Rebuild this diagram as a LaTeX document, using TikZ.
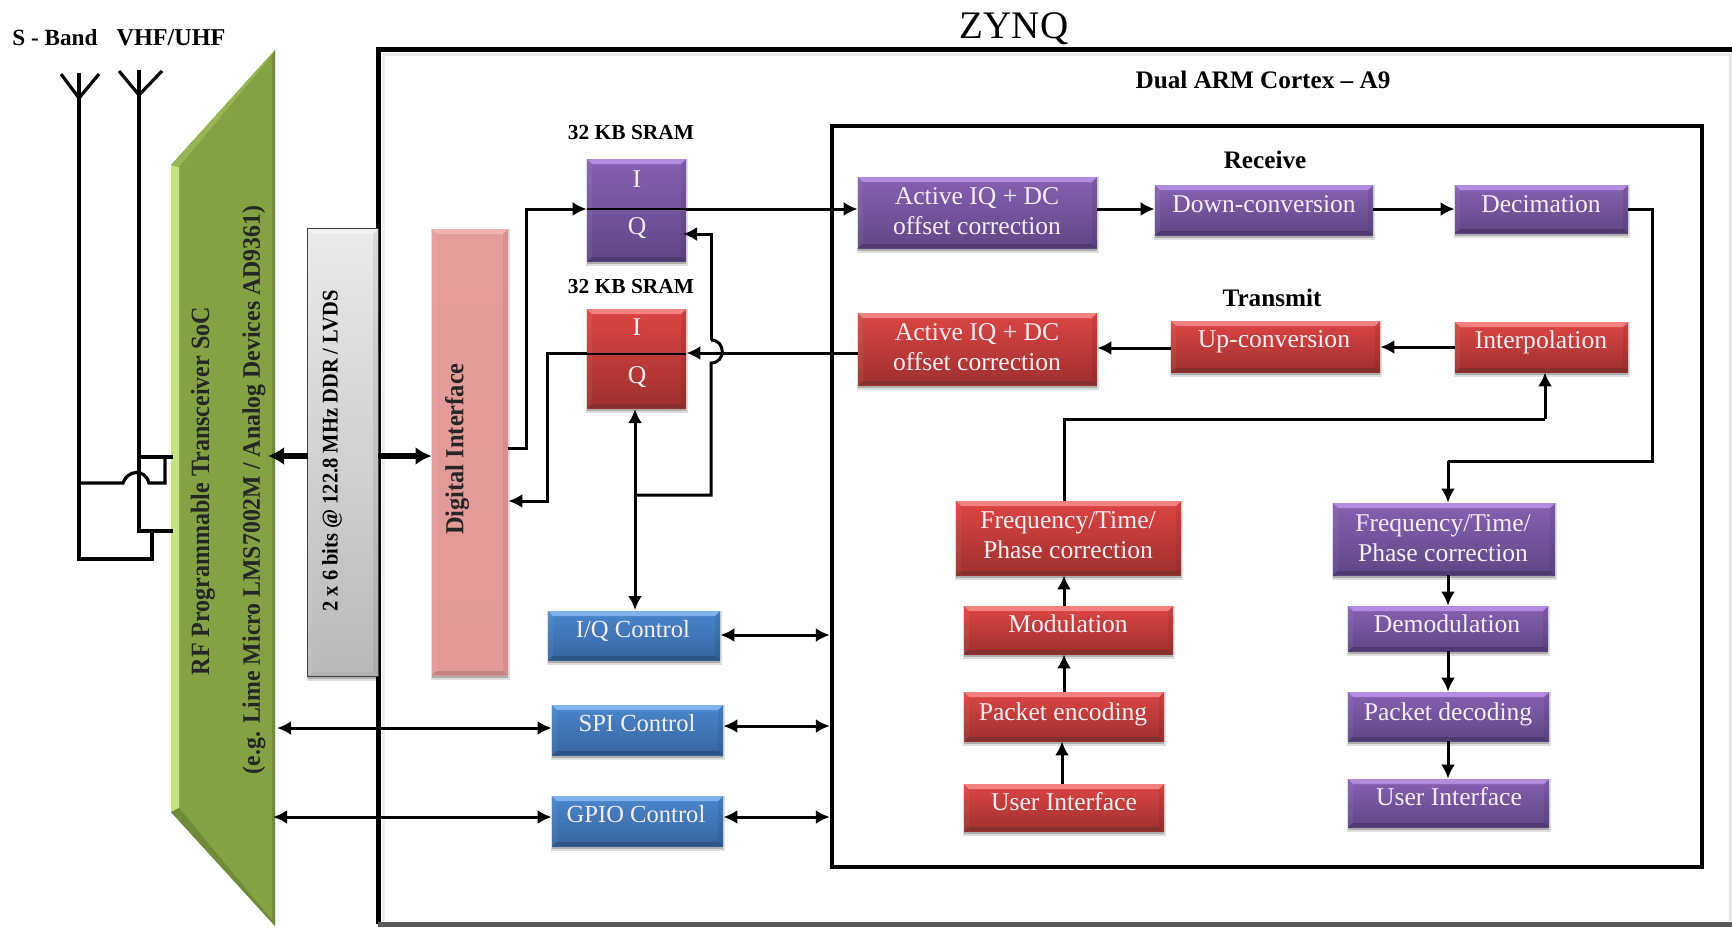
\documentclass[tikz,border=0pt]{standalone}
\usepackage{fontspec}
\setmainfont{Liberation Serif}
\usetikzlibrary{arrows.meta,fit}
\definecolor{purpT}{HTML}{8661B2}\definecolor{purpB}{HTML}{5F4686}\definecolor{purpL}{HTML}{B28CE0}\definecolor{purpD}{HTML}{4E3A6E}
\definecolor{redT}{HTML}{DC4543}\definecolor{redB}{HTML}{9F302E}\definecolor{redL}{HTML}{F58080}\definecolor{redD}{HTML}{84302E}
\definecolor{bluT}{HTML}{4A86CC}\definecolor{bluB}{HTML}{36659F}\definecolor{bluL}{HTML}{7FB2EE}\definecolor{bluD}{HTML}{2C5485}
\definecolor{pnkT}{HTML}{E59D9C}\definecolor{pnkB}{HTML}{E29998}\definecolor{pnkL}{HTML}{F0B4B3}\definecolor{pnkD}{HTML}{C08584}
\definecolor{greyT}{HTML}{EAEAEA}\definecolor{greyB}{HTML}{B9B9B9}\definecolor{greyL}{HTML}{F2F2F2}\definecolor{greyD}{HTML}{B0B0B0}
\definecolor{grn}{HTML}{84A243}\definecolor{grnL}{HTML}{C6E17F}\definecolor{grnD}{HTML}{6F8B3A}
\definecolor{txtw}{HTML}{F4EEF4}
\tikzset{
 x=0.5pt,y=-0.5pt,
 wire/.style={line width=1.5pt,draw=black,line join=miter},
 thinwire/.style={line width=1pt,draw=black},
 arr/.style={wire,-{Latex[length=7pt,width=7pt]}},
 darr/.style={wire,{Latex[length=7pt,width=7pt]}-{Latex[length=7pt,width=7pt]}},
 fatarr/.style={line width=3.2pt,draw=black,-{Latex[length=8pt,width=9pt]}},
 ant/.style={line width=1.6pt,draw=black},
 frameline/.style={line width=2.5pt,draw=black},
 boxtext/.style={font=\fontsize{12.8}{15}\selectfont,text=txtw,align=center,inner sep=0pt},
 lab/.style={font=\fontsize{12.6}{15}\selectfont\bfseries,text=black,inner sep=0pt},
 sramlab/.style={font=\fontsize{10.7}{12}\selectfont\bfseries,text=black,inner sep=0pt},
 vtext/.style={rotate=90,font=\fontsize{13.2}{15}\selectfont\bfseries,text=black!85,inner sep=0pt},
}
\newcommand{\bbox}[9]{%
 \pgfmathsetmacro{\xa}{#2+5}\pgfmathsetmacro{\xb}{#4-5}\pgfmathsetmacro{\ya}{#3+5}\pgfmathsetmacro{\yb}{#5-4}%
 \pgfmathsetmacro{\sa}{#2-1}\pgfmathsetmacro{\sb}{#4+2}\pgfmathsetmacro{\sc}{#5+5}\pgfmathsetmacro{\sd}{#5+3}%
 \fill[black,opacity=.13] (\sa,#3) rectangle (\sb,\sc);
 \fill[black,opacity=.22] (#2,#3) rectangle (#4,\sd);
 \path (#2,#3) coordinate (#1-nw) (#4,#5) coordinate (#1-se);
 \node[fit=(#1-nw)(#1-se),inner sep=0pt,top color=#6T,bottom color=#6B] (#1) {};
 \fill[#6L] (#2,#3) -- (#4,#3) -- (\xb,\ya) -- (\xa,\ya) -- cycle;
 \fill[#6D] (#2,#5) -- (#4,#5) -- (\xb,\yb) -- (\xa,\yb) -- cycle;
 \fill[white,opacity=.05] (#2,#3) -- (\xa,\ya) -- (\xa,\yb) -- (#2,#5) -- cycle;
 \fill[black,opacity=.07] (#4,#3) -- (\xb,\ya) -- (\xb,\yb) -- (#4,#5) -- cycle;
 \node[boxtext] (#1-t) at (#7,#8) {#9};
}
\begin{document}
\begin{tikzpicture}
\useasboundingbox (0,0) rectangle (1732,927);
% ---- ZYNQ frame
\fill[black!7] (382,53) rectangle (1732,56);
\fill[black!7] (382,53) rectangle (385,921);
\fill[black!10] (1729,54) rectangle (1732,921);
\draw[frameline] (1732,49) coordinate (zr) -- (378,49) coordinate (zl) -- (378,924) coordinate (zb);
\draw[line width=2.5pt,draw=black!65] (zb) -- (1732,924);
\node[inner sep=0pt,font=\fontsize{19.5}{20}\selectfont] (zynq) at (1014,29) {ZYNQ};
\node[lab] (dual) at (1263,80) {Dual ARM Cortex – A9};
% ---- A9 frame
\path (832,126) coordinate (a9nw) (1702,867) coordinate (a9se);
\node[fit=(a9nw)(a9se),inner sep=0pt,draw=black,line width=2.2pt] (a9) {};
\node[lab] (rx) at (1265,160) {Receive};
\node[lab] (tx) at (1272,298) {Transmit};
% ---- RF part
\fill[grn] (171,165) -- (275,50) -- (275,926) -- (171,812) -- cycle;
\fill[grnL] (171,165) -- (179,167) -- (179,808) -- (171,812) -- cycle;
\fill[grnD] (272,55) -- (275,50) -- (275,926) -- (272,920) -- cycle;
\fill[grnL!30!grn] (171,165) -- (275,50) -- (272,55) -- (179,167) -- cycle;
\fill[grnD] (171,812) -- (275,926) -- (272,920) -- (179,808) -- cycle;
\coordinate (rfa) at (268,456);
\coordinate (rfb) at (277,728);
\coordinate (rfc) at (273,817);
\node[vtext] (rf1) at (203,491) {\scalebox{.91}[1]{RF Programmable Transceiver SoC}};
\node[vtext,font=\fontsize{12.6}{15}\selectfont\bfseries] (rf2) at (254,490) {\scalebox{.945}[1]{(e.g. Lime Micro LMS7002M / Analog Devices AD9361)}};
% ---- antennas
\node[inner sep=0pt,font=\fontsize{11.6}{12}\selectfont\bfseries] (sband) at (55,38) {S - Band};
\node[inner sep=0pt,font=\fontsize{12.1}{12}\selectfont\bfseries] (vhf) at (171,38) {VHF/UHF};
\coordinate (sa) at (79,98); \coordinate (va) at (139,95);
\draw[ant] (61,74) -- (sa) -- (99,74);
\draw[ant] (119,71) -- (va) -- (162,71);
\draw[ant] (79,73) -- (79,559) -- (152,559) -- (152,531);
\draw[ant] (139,70) -- (139,531) -- (173,531);
\draw[ant] (139,457) -- (173,457);
\draw[ant] (79,483) -- (123,483) .. controls (127,470) and (145,468) .. (149,483) -- (165,483) -- (165,457);
% ---- interface boxes
\bbox{lvds}{308}{229}{378}{676}{grey}{332}{451}{\rotatebox{90}{\color{black}\fontsize{11.2}{13}\selectfont\bfseries\scalebox{.915}[1]{2 x 6 bits @ 122.8 MHz DDR / LVDS}}}
\draw[line width=.8pt,draw=black!75] (lvds.south west) rectangle (lvds.north east);
\bbox{dig}{432}{229}{508}{675}{pnk}{457}{449}{\rotatebox{90}{\color{black!85}\fontsize{13}{15}\selectfont\bfseries\scalebox{.94}[1]{Digital Interface}}}
\draw[fatarr] (lvds.west |- 0,456) -- (rfa);
\draw[fatarr] (lvds.east |- 0,456) -- (dig.west |- 0,456);
% ---- SRAMs
\node[sramlab] (l1) at (631,133) {32 KB SRAM};
\node[sramlab] (l2) at (631,287) {32 KB SRAM};
\bbox{sp}{587}{159}{686}{261}{purp}{637}{179}{I}
\node[boxtext] (spq) at (637,228) {Q};
\bbox{sr}{587}{309}{686}{408}{red}{637}{327}{I}
\node[boxtext] (srq) at (637,377) {Q};
% ---- receive chain
\bbox{arx}{858}{177}{1097}{248}{purp}{977}{211}{Active IQ + DC\\offset correction}
\bbox{down}{1155}{185}{1373}{235}{purp}{1264}{204}{Down-conversion}
\bbox{dec}{1455}{185}{1628}{233}{purp}{1541}{204}{Decimation}
% ---- transmit chain
\bbox{atx}{858}{313}{1097}{385}{red}{977}{347}{Active IQ + DC\\offset correction}
\bbox{up}{1171}{321}{1380}{372}{red}{1274}{342}{Up-conversion}
\bbox{intp}{1455}{322}{1628}{372}{red}{1541}{342}{Interpolation}
% ---- red column
\bbox{fr}{956}{501}{1181}{575}{red}{1068}{535}{Frequency/Time/\\Phase correction}
\bbox{mod}{964}{606}{1173}{654}{red}{1068}{624}{Modulation}
\bbox{penc}{964}{692}{1164}{741}{red}{1063}{714}{Packet encoding}
\bbox{ur}{964}{784}{1164}{831}{red}{1064}{802}{User Interface}
% ---- purple column
\bbox{fp}{1333}{503}{1555}{575}{purp}{1443}{538}{Frequency/Time/\\Phase correction}
\bbox{dem}{1348}{606}{1548}{651}{purp}{1447}{624}{Demodulation}
\bbox{pdec}{1348}{692}{1549}{741}{purp}{1448}{714}{Packet decoding}
\bbox{up2}{1348}{779}{1549}{827}{purp}{1449}{797}{User Interface}
% ---- controls
\bbox{iq}{548}{611}{720}{660}{blu}{633}{631}{\fontsize{12.3}{15}\selectfont I/Q Control}
\bbox{spi}{552}{705}{723}{755}{blu}{637}{723}{\fontsize{12.3}{15}\selectfont SPI Control}
\bbox{gpio}{552}{796}{723}{846}{blu}{636}{814}{\fontsize{12.3}{15}\selectfont GPIO Control}
% ---- connectors
\draw[arr] (dig.east |- 0,448) -- (526,448) -- (526,209) -- (sp.west |- 0,209);
\draw[thinwire] (sp.west |- 0,209) -- (sp.east |- 0,209);
\draw[arr] (sp.east |- 0,209) -- (arx.west |- 0,209);
\draw[arr] (arx.east |- 0,209) -- (down.west |- 0,209);
\draw[arr] (down.east |- 0,209) -- (dec.west |- 0,209);
\draw[wire] (dec.east |- 0,209) -- (1652,209) -- (1652,461) -- (1448,461) coordinate (rxd);
\draw[arr] (rxd) -- (rxd |- fp.north);
\draw[arr] (intp.west |- 0,347) -- (up.east |- 0,347);
\draw[arr] (up.west |- 0,348) -- (atx.east |- 0,348);
\draw[arr] (atx.west |- 0,353) -- (sr.east |- 0,353);
\draw[thinwire] (sr.east |- 0,354) -- (sr.west |- 0,354);
\draw[arr] (sr.west |- 0,353) -- (547,353) -- (547,501) -- (dig.east |- 0,501);
\draw[darr] (635,610) coordinate (iqt) -- (635,409) coordinate (srb);
\draw[wire] (635,495) -- (711,495) -- (711,363) .. controls (726,363) and (726,340) .. (711,340);
\draw[arr] (711,340) -- (711,234) -- (683,234);
\draw[wire] (fr.north -| 1064,0) -- (1064,419) -- (1545,419) coordinate (t1);
\draw[arr] (t1) -- (t1 |- intp.south);
\draw[arr] (mod.north -| 1064,0) -- (fr.south -| 1064,0);
\draw[arr] (penc.north -| 1064,0) -- (mod.south -| 1064,0);
\draw[arr] (ur.north -| 1062,0) -- (penc.south -| 1062,0);
\draw[arr] (fp.south -| 1448,0) -- (dem.north -| 1448,0);
\draw[arr] (dem.south -| 1448,0) -- (pdec.north -| 1448,0);
\draw[arr] (pdec.south -| 1448,0) -- (up2.north -| 1448,0);
\draw[darr] (iq.east |- 0,635) -- (a9.west |- 0,635);
\draw[darr] (spi.east |- 0,726) -- (a9.west |- 0,726);
\draw[darr] (gpio.east |- 0,817) -- (a9.west |- 0,817);
\draw[darr] (rfb) -- (spi.west |- rfb);
\draw[darr] (rfc) -- (gpio.west |- rfc);
\end{tikzpicture}
\end{document}
